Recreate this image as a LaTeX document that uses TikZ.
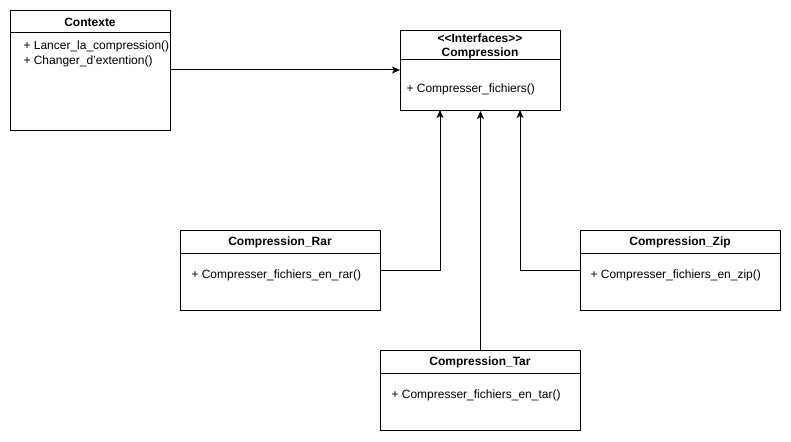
\documentclass[tikz,border=0pt]{standalone}
\usepackage{fontspec}
\setmainfont{Liberation Sans}
\usetikzlibrary{arrows.meta}
\begin{document}
\begin{tikzpicture}[x=1pt,y=-1pt,line width=1pt,
  classbox/.style={draw=black,fill=white,rectangle,anchor=north west,inner sep=0pt},
  title/.style={font=\fontsize{12}{14}\selectfont\bfseries,inner sep=0pt},
  meth/.style={font=\fontsize{12}{15}\selectfont,inner sep=0pt,anchor=west,align=left},
  conn/.style={draw=black,-{Stealth[length=8pt,width=7pt,inset=2pt]}}]
\useasboundingbox (0,0) rectangle (791,441);
% boxes
\node[classbox,minimum width=160pt,minimum height=120pt] (ctx) at (10,10) {};
\draw (10,33) -- (170,33);
\node[title] (ctxT) at (90,22) {Contexte};
\node[meth] (ctxM1) at (23,46.5) {+ Lancer\_la\_compression()};
\node[meth] (ctxM2) at (23,61.5) {+ Changer\_d\symbol{39}extention()};

\node[classbox,minimum width=160pt,minimum height=80pt] (ifc) at (400,30) {};
\draw (400,60) -- (560,60);
\node[title] (ifcT1) at (480,38.5) {<{}<Interfaces>{}>};
\node[title] (ifcT2) at (480,53.5) {Compression};
\node[meth] (ifcM) at (406,89.5) {+ Compresser\_fichiers()};

\node[classbox,minimum width=200pt,minimum height=80pt] (rar) at (180,230) {};
\draw (180,253) -- (380,253);
\node[title] (rarT) at (280,242) {Compression\_Rar};
\node[meth] (rarM) at (191,275.5) {+ Compresser\_fichiers\_en\_rar()};

\node[classbox,minimum width=200pt,minimum height=80pt] (zip) at (580,230) {};
\draw (580,253) -- (780,253);
\node[title] (zipT) at (680,242) {Compression\_Zip};
\node[meth] (zipM) at (590,275.5) {+ Compresser\_fichiers\_en\_zip()};

\node[classbox,minimum width=200pt,minimum height=80pt] (tar) at (380,350) {};
\draw (380,373) -- (580,373);
\node[title] (tarT) at (480,362) {Compression\_Tar};
\node[meth] (tarM) at (391,395.5) {+ Compresser\_fichiers\_en\_tar()};

% connector end points
\coordinate (ifcA) at (400,70);
\coordinate (ifcL) at (440,110);
\coordinate (ifcR) at (520,110);
\coordinate (rarR) at (380,270);
\coordinate (zipL) at (580,270);

\draw[conn] (ctx.east |- ifcA) -- (ifcA);
\draw[conn] (rarR) -| (ifcL);
\draw[conn] (tar.north) -- (ifc.south);
\draw[conn] (zipL) -| (ifcR);
\end{tikzpicture}
\end{document}
